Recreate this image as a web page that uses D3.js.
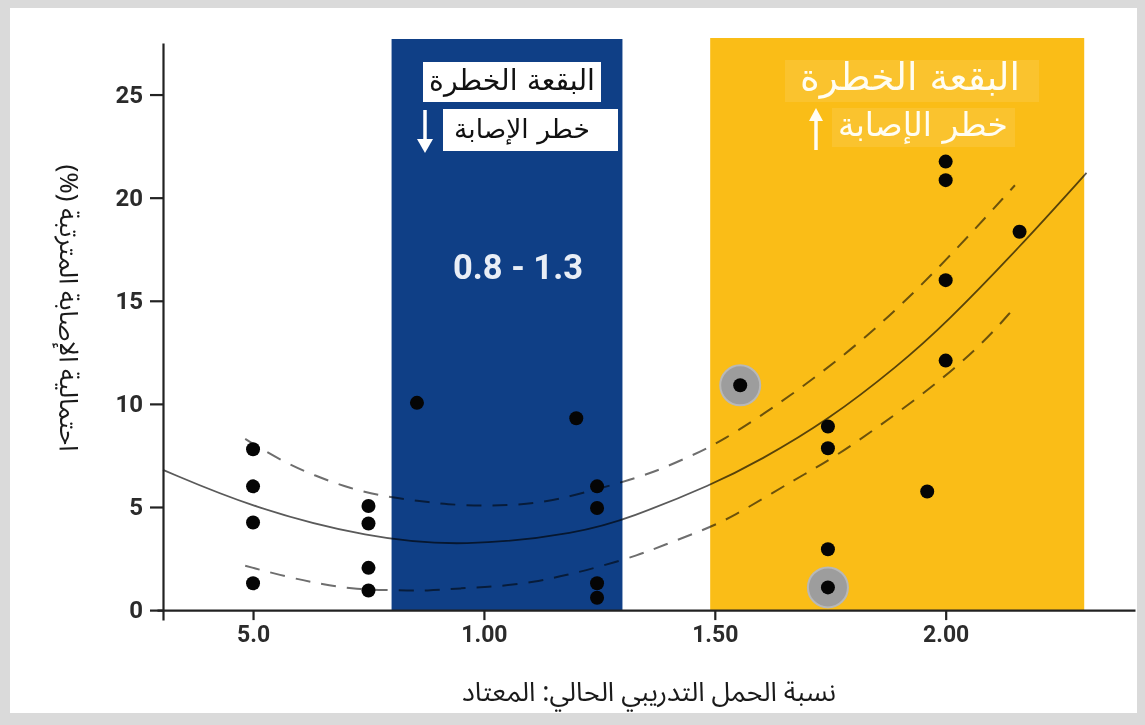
<!DOCTYPE html>
<html>
<head>
<meta charset="utf-8">
<script src="https://cdn.jsdelivr.net/npm/d3@7/dist/d3.min.js"></script>
<style>
  html, body { margin: 0; padding: 0; background: #ffffff; }
  svg { display: block; }
  .ar { font-family: "Noto Sans Arabic", "DejaVu Sans", sans-serif; }
  .arbox { font-family: "DejaVu Sans", sans-serif; }
  .num { font-family: "Roboto", "DejaVu Sans", sans-serif; font-weight: 700; }
</style>
</head>
<body>
<svg id="chart" width="1145" height="725"></svg>
<script>
// Acute:chronic workload ratio against the resulting injury likelihood
const ratio = [0.5, 0.5, 0.5, 0.5, 0.75, 0.75, 0.75, 0.75, 0.855, 1.2,
               1.245, 1.245, 1.245, 1.245, 1.555, 1.745, 1.745, 1.745, 1.745,
               1.96, 2.0, 2.0, 2.0, 2.0, 2.16];
const injury = [7.8, 6.0, 4.25, 1.3, 5.05, 4.2, 2.05, 0.95, 10.05, 9.3,
                6.0, 4.95, 1.3, 0.6, 10.9, 8.9, 7.85, 2.95, 1.1,
                5.75, 21.75, 20.85, 16.0, 12.1, 18.35];
const flagged = [false, false, false, false, false, false, false, false, false, false,
                 false, false, false, false, true, false, false, false, true,
                 false, false, false, false, false, false];

// fitted trend and its confidence band, as [ratio, injury %]
const fitLine = [[0.305, 6.8], [0.5, 4.95], [0.75, 3.5], [0.955, 3.06], [1.21, 3.74],
                 [1.316, 4.47], [1.496, 6.1], [1.597, 7.25], [1.745, 9.2], [1.9, 11.9],
                 [2.0, 13.9], [2.16, 17.6], [2.305, 21.2]];
const upperBand = [[0.483, 8.3], [0.56, 7.25], [0.635, 6.5], [0.71, 5.9], [0.785, 5.5],
                   [0.857, 5.3], [0.92, 5.12], [1.0, 5.05], [1.074, 5.1], [1.154, 5.3],
                   [1.3, 6.2], [1.37, 6.7], [1.44, 7.4], [1.51, 8.1], [1.66, 10.3],
                   [1.83, 13.2], [1.987, 16.6], [2.15, 20.6]];
const lowerBand = [[0.483, 2.15], [0.575, 1.6], [0.65, 1.25], [0.725, 1.0], [0.8, 0.97],
                   [0.88, 0.92], [0.95, 1.07], [1.02, 1.12], [1.11, 1.36], [1.18, 1.7],
                   [1.25, 2.1], [1.335, 2.67], [1.39, 3.15], [1.465, 3.8], [1.535, 4.45],
                   [1.677, 6.4], [1.777, 7.6], [2.045, 12.0], [2.154, 14.8]];

// shaded zones
const safeZone = [0.8, 1.3];
const dangerZone = [1.49, 2.3];
const safeLabel = "0.8 - 1.3";
const zoneTitle = "البقعة الخطرة";
const riskTitle = "خطر الإصابة";

// axes
const yTicks = [0, 5, 10, 15, 20, 25];
const xTicks = [0.5, 1.0, 1.5, 2.0];
const xTickLabels = ["5.0", "1.00", "1.50", "2.00"];
const xTitle = "نسبة الحمل التدريبي الحالي: المعتاد";
const yTitle = "احتمالية الإصابة المترتبة (%)";

const svg = d3.select("#chart");
const W = 1145, H = 725;

// outer frame
svg.append("rect").attr("width", W).attr("height", H).attr("fill", "#dadada");
svg.append("rect").attr("x", 10).attr("y", 8).attr("width", 1127).attr("height", 705).attr("fill", "#ffffff");

const x = d3.scaleLinear().domain([0.292, 2.41]).range([157, 1135]);
const y = d3.scaleLinear().domain([-0.48, 27.5]).range([620, 43]);
const yAxisX = 163;
const zoneTop = 39;

// zones
svg.append("rect")
  .attr("x", x(safeZone[0])).attr("y", zoneTop)
  .attr("width", x(safeZone[1]) - x(safeZone[0]))
  .attr("height", y(0) - zoneTop)
  .attr("fill", "#0f3f86");
svg.append("rect")
  .attr("x", x(dangerZone[0])).attr("y", zoneTop - 1)
  .attr("width", x(dangerZone[1]) - x(dangerZone[0]))
  .attr("height", y(0) - zoneTop + 1)
  .attr("fill", "#fabd17");

// helper: fit text into a target width
function fitText(sel, width, baseSize) {
  sel.attr("font-size", baseSize);
  const w = sel.node().getComputedTextLength();
  sel.attr("font-size", baseSize * width / w);
  return sel;
}

// label boxes on the safe zone
const g = svg.append("g");
g.append("rect").attr("x", 423).attr("y", 62).attr("width", 178).attr("height", 40).attr("fill", "#ffffff");
g.append("rect").attr("x", 443).attr("y", 109).attr("width", 175).attr("height", 42).attr("fill", "#ffffff");
fitText(g.append("text").attr("class", "arbox").attr("direction", "rtl")
  .attr("x", 512).attr("y", 90).attr("text-anchor", "middle").attr("fill", "#111")
  .text(zoneTitle), 166, 20);
fitText(g.append("text").attr("class", "arbox").attr("direction", "rtl")
  .attr("x", 522).attr("y", 138).attr("text-anchor", "middle").attr("fill", "#111")
  .text(riskTitle), 136, 20);

// down arrow (lower risk)
g.append("line").attr("x1", 425).attr("x2", 425).attr("y1", 110).attr("y2", 142)
  .attr("stroke", "#ffffff").attr("stroke-width", 3.5);
g.append("path").attr("d", "M417,139 L433,139 L425,153 Z").attr("fill", "#ffffff");

fitText(g.append("text").attr("class", "num")
  .attr("x", 518).attr("y", 279).attr("text-anchor", "middle").attr("fill", "#e9eef6")
  .text(safeLabel), 130, 30);

// label boxes on the danger zone
const gy = svg.append("g");
gy.append("rect").attr("x", 785).attr("y", 60).attr("width", 254).attr("height", 42).attr("fill", "#ffffff").attr("opacity", 0.1);
gy.append("rect").attr("x", 832).attr("y", 108).attr("width", 183).attr("height", 39).attr("fill", "#ffffff").attr("opacity", 0.1);
fitText(gy.append("text").attr("class", "arbox").attr("direction", "rtl")
  .attr("x", 910).attr("y", 90).attr("text-anchor", "middle").attr("fill", "#fffdf2")
  .attr("letter-spacing", 2.5).text(zoneTitle), 220, 20);
fitText(gy.append("text").attr("class", "arbox").attr("direction", "rtl")
  .attr("x", 923).attr("y", 136).attr("text-anchor", "middle").attr("fill", "#fffdf2")
  .attr("letter-spacing", 1.5).text(riskTitle), 170, 20);

// up arrow (higher risk)
gy.append("line").attr("x1", 816).attr("x2", 816).attr("y1", 118).attr("y2", 150)
  .attr("stroke", "#fffdf2").attr("stroke-width", 3.5);
gy.append("path").attr("d", "M809,121 L823,121 L816,108 Z").attr("fill", "#fffdf2");

// trend lines
const line = d3.line().x(d => x(d[0])).y(d => y(d[1])).curve(d3.curveBasis);
const trends = svg.append("g").style("mix-blend-mode", "multiply");
trends.append("path").attr("d", line(upperBand)).attr("fill", "none")
  .attr("stroke", "#6e6e6e").attr("stroke-width", 2).attr("stroke-dasharray", "15,11");
trends.append("path").attr("d", line(lowerBand)).attr("fill", "none")
  .attr("stroke", "#6e6e6e").attr("stroke-width", 2).attr("stroke-dasharray", "15,11");
trends.append("path").attr("d", line(fitLine)).attr("fill", "none")
  .attr("stroke", "#5a5a5a").attr("stroke-width", 1.8);

// points
const pts = ratio.map((r, i) => ({ r, v: injury[i], hi: flagged[i] }));
svg.append("g").selectAll("circle.halo").data(pts.filter(d => d.hi)).join("circle")
  .attr("class", "halo")
  .attr("cx", d => x(d.r)).attr("cy", d => y(d.v)).attr("r", 20)
  .attr("fill", "#9d9d9d").attr("stroke", "#b8b8b8").attr("stroke-width", 2);
svg.append("g").selectAll("circle.dot").data(pts).join("circle")
  .attr("class", "dot")
  .attr("cx", d => x(d.r)).attr("cy", d => y(d.v)).attr("r", 7)
  .attr("fill", "#050505");

// y axis
const yAxis = svg.append("g").attr("transform", `translate(${yAxisX},0)`)
  .call(d3.axisLeft(y).tickValues(yTicks).tickSize(13).tickSizeOuter(0).tickPadding(7));
yAxis.select(".domain").attr("stroke", "#222").attr("stroke-width", 2.2);
yAxis.selectAll(".tick line").attr("stroke", "#222").attr("stroke-width", 2.2);
yAxis.selectAll(".tick text").attr("class", "num").attr("font-size", 24).attr("fill", "#2b2b2b");

// x axis
const xAxis = svg.append("g").attr("transform", `translate(0,${y(0)})`)
  .call(d3.axisBottom(x).tickValues(xTicks).tickFormat((d, i) => xTickLabels[i])
    .tickSize(10).tickSizeOuter(0).tickPadding(6));
xAxis.select(".domain").attr("stroke", "#222").attr("stroke-width", 2.2);
xAxis.selectAll(".tick line").attr("stroke", "#222").attr("stroke-width", 2.2);
xAxis.selectAll(".tick text").attr("class", "num").attr("font-size", 23).attr("fill", "#2b2b2b");

// axis titles
fitText(svg.append("text").attr("class", "ar").attr("direction", "rtl")
  .attr("x", 649).attr("y", 701).attr("text-anchor", "middle").attr("fill", "#1a1a1a")
  .text(xTitle), 374, 21);
fitText(svg.append("text").attr("class", "ar").attr("direction", "rtl")
  .attr("transform", "translate(60,308) rotate(90)")
  .attr("text-anchor", "middle").attr("fill", "#1a1a1a")
  .text(yTitle), 287, 21);
</script>
</body>
</html>
